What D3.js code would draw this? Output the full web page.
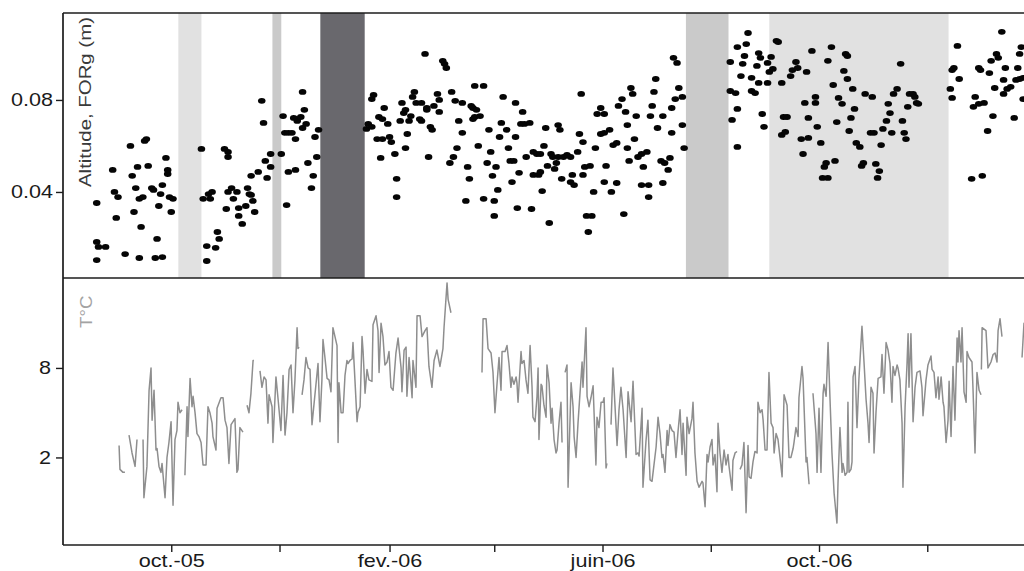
<!DOCTYPE html>
<html><head><meta charset="utf-8">
<script src="https://cdn.jsdelivr.net/npm/d3@7"></script>
<style>body{margin:0;background:#fff}svg{display:block}</style>
</head><body><svg id="c" width="1024" height="571"></svg>
<script>
// ---------- data ----------
const startDate = "2005-08-01";   // day 0 of the day offsets below
const endDate = "2007-02-01";

// Altitude FORg (m): day offset after startDate, value
const altDay = [19,19,20,24,19,28,29,31,30,35,38,39,40,41,42,43,45,43,44,46,47,48,50,51,52,53,54,55,56,56,58,59,59,60,62,61,
78,79,81,81,82,84,83,86,87,88,91,93,92,93,93,95,98,96,99,99,101,103,104,105,106,106,107,108,110,112,113,114,115,117,117,
123,124,125,127,129,126,127,131,130,132,131,132,134,135,135,136,137,138,140,141,142,143,144,
171,172,174,174,175,177,180,178,180,179,181,183,184,185,187,188,188,190,191,192,193,193,194,195,196,197,198,199,202,201,202,
204,205,205,206,207,208,209,211,212,212,214,215,216,218,219,220,221,225,222,223,225,227,228,229,230,231,233,231,232,235,232,
237,234,237,243,239,240,241,242,243,244,245,246,247,248,250,251,252,254,253,255,255,256,257,258,260,263,259,261,264,265,267,
269,265,268,269,270,271,272,273,274,275,276,279,277,278,279,280,281,282,284,286,286,288,287,290,291,292,293,293,294,297,295,
298,296,299,300,301,303,305,303,305,308,305,306,309,310,312,312,313,315,316,317,318,318,319,320,321,322,323,324,326,329,326,
330,327,330,331,332,333,334,335,337,339,338,338,341,342,343,343,344,346,345,347,349,349,350,
376,376,379,377,380,380,380,385,383,384,382,386,388,388,390,391,392,393,392,397,394,395,397,398,400,399,402,403,405,406,408,
405,407,410,411,414,413,416,420,417,418,424,419,420,422,424,425,427,429,430,428,431,431,433,434,435,436,437,439,440,441,442,
442,443,444,445,446,447,449,450,451,452,456,455,457,458,459,460,461,462,464,465,466,467,468,470,472,473,474,475,476,477,479,
480,481,482,500,501,502,501,504,505,512,518,514,513,516,519,516,517,521,522,523,524,525,526,527,529,530,530,531,532,534,536,
537,539,541,538,539,540,541];
const altValue = [.0352,.0183,.0161,.0161,.0104,.0496,.0400,.0378,.0287,.0130,.0600,.0470,.0313,.0417,.0509,.0370,.0378,.0113,.0248,.0622,.0630,.0513,.0417,.0409,.0113,.0196,.0339,.0391,.0430,.0117,.0548,.0478,.0496,.0378,.0370,.0313,
.0587,.0370,.0165,.0100,.0391,.0400,.0370,.0157,.0226,.0196,.0587,.0574,.0326,.0552,.0400,.0417,.0400,.0370,.0330,.0296,.0261,.0339,.0417,.0391,.0387,.0470,.0361,.0313,.0487,.0796,.0700,.0535,.0461,.0509,.0565,
.0565,.0730,.0657,.0657,.0657,.0343,.0487,.0496,.0722,.0717,.0630,.0709,.0726,.0678,.0835,.0757,.0696,.0526,.0417,.0470,.0639,.0552,.0670,
.0674,.0696,.0683,.0804,.0822,.0630,.0630,.0726,.0717,.0548,.0765,.0696,.0639,.0617,.0565,.0457,.0378,.0709,.0787,.0743,.0757,.0591,.0652,.0709,.0730,.0813,.0835,.0787,.0787,.0717,.0709,
.1000,.0765,.0757,.0552,.0683,.0670,.0774,.0826,.0800,.0748,.0970,.0957,.0939,.0526,.0835,.0552,.0796,.0787,.0591,.0709,.0657,.0361,.0509,.0457,.0774,.0765,.0757,.0717,.0726,.0730,.0861,
.0861,.0600,.0370,.0361,.0526,.0670,.0574,.0470,.0296,.0509,.0409,.0639,.0700,.0813,.0670,.0591,.0535,.0535,.0443,.0787,.0639,.0330,.0483,.0696,.0696,.0700,.0748,.0552,.0326,.0574,.0565,
.0565,.0474,.0474,.0487,.0404,.0600,.0678,.0513,.0265,.0565,.0552,.0552,.0500,.0526,.0691,.0670,.0457,.0552,.0561,.0552,.0443,.0430,.0474,.0574,.0652,.0826,.0617,.0474,.0509,.0513,.0296,
.0296,.0226,.0400,.0591,.0739,.0765,.0739,.0652,.0657,.0670,.0443,.0513,.0400,.0604,.0613,.0439,.0774,.0804,.0304,.0748,.0691,.0591,.0535,.0852,.0826,.0630,.0730,.0552,.0565,.0574,.0430,
.0430,.0509,.0378,.0730,.0774,.0835,.0891,.0678,.0535,.0526,.0439,.0730,.0496,.0548,.0657,.0765,.0983,.0961,.0804,.0852,.0691,.0813,.0591,
.0965,.0839,.0830,.0713,.0761,.0596,.1030,.1043,.0957,.0991,.0904,.1091,.0896,.0839,.0830,.0948,.1004,.0983,.0874,.0874,.0739,.0683,.0961,.0922,.0935,.0987,.1057,.1052,.0874,.0726,.0726,
.0648,.0661,.0904,.0930,.0939,.0965,.0630,.0635,.0565,.0787,.0787,.0922,.0722,.1013,.0813,.0683,.0613,.0509,.0526,.0461,.0461,.0970,.1030,.0865,.0535,.0704,.0809,.0783,.0926,.1000,.0991,
.0891,.0665,.0722,.0848,.0761,.0613,.0596,.0513,.0526,.0826,.0813,.0657,.0657,.0522,.0461,.0491,.0604,.0674,.0709,.0783,.0743,.0657,.0826,.0848,.0957,.0709,.0657,.0630,.0770,.0826,.0826,
.0813,.0787,.0783,.0848,.0930,.0939,.0809,.1035,.0891,.0457,.0470,.0813,.0770,.0783,.0787,.0939,.0930,.0665,.0917,.0970,.0730,.0852,.1000,.0983,.1096,.0826,.0887,.0939,.0848,.0857,.0722,
.0887,.0891,.0896,.0939,.1000,.1030,.0804];

// Temperature (°C): day offset after startDate, value (null = missing record)
const tempDay = [31.6,32.1,33.8,34.9,null,
37.2,38.9,40.6,41.7,null,
45.1,45.6,47.3,48.5,49.6,50.2,51.3,52.4,53.0,54.1,55.2,55.8,57.5,58.6,59.7,60.9,62.0,63.1,64.2,64.8,65.9,67.1,null,
68.7,69.9,70.4,71.6,72.7,73.3,74.4,75.5,76.6,77.8,78.9,80.6,81.7,82.8,84.0,84.5,86.2,86.8,89.0,90.2,91.3,92.4,93.5,94.7,95.8,96.9,98.0,98.6,99.7,101.4,null,
103.7,104.8,105.9,107.1,107.6,null,
111.0,112.1,113.3,114.4,115.5,116.1,117.8,118.3,120.0,121.2,122.8,124.0,125.1,126.2,127.4,128.5,129.6,130.7,131.9,132.4,133.0,null,
134.7,135.8,136.9,138.1,139.2,140.3,143.7,144.8,145.9,146.5,147.6,148.8,149.9,151.0,152.1,154.4,155.0,155.5,156.7,157.8,158.9,160.0,160.6,161.7,162.9,163.4,164.5,165.7,166.2,167.4,168.5,169.1,170.2,171.3,172.4,174.1,174.7,176.4,177.5,178.1,179.2,180.3,181.4,182.6,183.7,184.8,186.0,187.6,188.8,190.5,191.0,192.2,193.3,193.8,195.0,196.7,197.2,198.9,199.5,201.2,202.3,204.0,205.1,206.2,207.9,209.1,210.7,212.4,214.1,214.7,216.4,217.0,218.6,null,
236.1,236.7,238.4,239.5,241.2,242.3,243.4,244.6,245.7,246.8,247.4,249.1,250.2,251.3,252.4,253.0,254.1,255.3,255.8,256.4,258.1,258.6,259.8,260.9,262.0,263.2,264.3,264.8,266.0,267.1,267.7,268.2,269.4,269.9,271.0,272.2,272.7,273.9,275.0,275.6,276.7,277.8,278.4,279.5,280.6,281.2,null,
282.9,284.0,284.6,286.3,287.4,288.0,289.1,290.2,292.5,293.0,294.7,295.3,296.4,297.5,298.7,300.3,300.9,302.0,303.2,304.3,304.9,306.0,306.5,null,
308.8,309.9,310.5,312.2,313.3,314.4,315.6,317.3,318.4,320.1,321.2,322.9,324.0,324.6,326.3,326.8,328.5,329.6,330.8,331.9,332.5,334.2,335.3,336.4,337.5,338.1,339.2,340.4,340.9,342.0,343.2,344.3,345.4,346.6,347.7,348.8,349.4,351.1,351.6,352.8,354.4,355.0,356.1,357.3,358.4,360.1,360.6,361.8,362.9,363.5,364.6,365.7,366.3,367.4,368.5,369.1,370.2,371.3,372.5,373.6,374.7,375.3,377.0,377.5,378.7,379.8,null,
381.5,382.6,383.7,384.9,386.0,386.6,387.7,388.8,389.9,391.1,391.6,392.8,393.9,394.5,395.6,396.7,397.8,399.0,400.1,400.7,401.8,402.9,404.0,405.2,406.3,408.0,409.1,410.2,411.4,411.9,413.0,414.2,414.7,416.4,417.0,418.7,419.2,420.4,null,
422.6,424.3,424.9,426.0,427.1,428.3,428.8,430.0,431.1,432.2,433.3,434.5,436.1,436.7,437.8,439.0,439.5,440.7,441.8,442.3,442.9,444.0,444.6,445.2,446.3,447.4,448.5,450.2,451.4,452.5,453.6,454.2,455.3,456.4,457.0,458.1,459.3,460.9,461.5,462.6,463.8,464.9,466.0,467.1,467.7,468.8,470.0,470.5,471.6,472.8,473.3,474.5,475.6,476.2,476.7,477.8,479.0,480.1,481.2,482.9,484.0,484.6,486.3,487.4,489.1,489.7,490.8,491.9,493.1,493.6,494.8,495.9,496.4,497.6,498.7,499.3,500.4,501.5,502.6,503.8,504.3,504.9,506.0,506.6,507.7,508.9,509.4,510.5,512.2,512.8,513.9,515.0,516.2,517.3,null,
517.5,517.9,520.1,521.2,522.9,524.1,525.2,526.3,526.9,528.0,529.1,null,
540.4,541.5,542.7];
const tempValue = [2.8,1.2,1.0,1.0,null,
3.5,2.3,1.4,3.2,null,
3.2,-0.7,1.4,6.5,8.0,4.5,6.5,2.5,2.6,1.4,1.0,1.6,-0.7,2.0,3.0,4.4,-1.2,3.2,3.8,5.7,5.0,5.2,null,
0.8,5.4,3.4,7.3,5.4,6.1,5.0,3.6,3.4,3.0,1.5,1.5,5.4,5.0,4.3,3.4,2.5,5.3,6.0,6.0,4.5,4.0,1.6,4.2,4.4,4.6,1.0,1.2,4.0,3.7,null,
5.5,5.0,6.3,8.5,8.5,null,
7.8,6.7,7.4,7.2,4.3,6.2,5.4,3.0,7.4,5.9,3.8,7.5,3.5,5.0,7.9,8.2,5.0,7.2,10.7,9.3,9.4,null,
6.2,7.2,8.7,8.0,7.9,4.2,8.3,4.4,7.2,9.9,8.7,7.3,7.2,6.4,10.7,9.5,3.0,7.0,5.0,5.0,7.5,8.5,8.3,8.5,8.6,9.7,7.2,4.4,5.0,5.4,10.1,9.1,6.3,7.9,7.2,7.1,10.9,11.5,10.5,7.7,11.0,10.1,8.2,8.4,9.1,6.7,6.5,9.0,10.0,8.0,6.4,9.2,9.4,6.1,8.7,6.0,8.5,6.7,11.5,11.5,10.1,10.5,10.7,8.1,6.7,8.5,9.2,8.1,9.3,10.7,13.7,12.6,11.7,null,
7.7,11.3,11.3,9.3,9.0,7.7,5.0,7.0,8.7,6.5,9.1,9.1,9.5,8.3,6.7,7.4,6.9,7.4,7.0,5.7,9.1,8.3,8.5,7.2,6.3,9.5,6.7,4.7,4.4,6.1,8.0,3.2,6.9,6.8,5.5,4.7,8.2,7.0,4.3,5.3,3.2,2.3,2.5,4.3,5.7,3.0,null,
7.7,8.2,0.0,7.0,5.4,3.4,2.0,4.3,8.4,6.7,10.7,6.1,5.4,6.0,6.8,1.5,4.7,4.0,5.7,5.7,6.0,1.3,1.6,null,
4.2,8.0,6.7,2.8,5.2,6.7,5.2,2.0,6.4,4.4,7.1,2.2,2.3,2.1,5.3,0.0,3.1,4.5,0.5,0.4,1.0,2.7,4.7,3.6,2.0,2.2,1.0,3.8,2.8,4.2,3.8,3.7,2.0,3.8,5.2,2.2,4.3,0.8,4.7,3.6,4.6,5.7,2.3,0.4,0.0,0.4,0.3,-1.3,2.2,1.7,2.7,3.2,1.5,2.2,-0.3,4.3,2.3,1.0,2.5,1.5,2.2,1.4,-0.2,1.8,2.3,2.4,null,
1.2,1.5,3.0,-1.7,2.8,0.7,0.6,1.7,2.4,2.3,5.7,5.0,5.2,4.5,2.5,2.5,7.7,4.3,4.0,2.3,3.6,3.2,2.0,0.7,6.2,5.5,2.0,2.0,2.6,3.0,4.0,3.4,6.0,8.1,7.3,1.7,2.0,0.2,null,
6.3,3.6,1.0,5.3,1.0,6.3,6.9,6.1,9.7,5.9,2.3,-0.4,-2.4,0.3,4.0,1.0,1.6,0.8,1.0,5.7,1.0,1.2,1.7,7.4,8.1,4.0,7.3,10.8,8.3,5.9,4.3,3.0,6.7,6.3,2.3,5.0,7.3,7.4,8.9,6.3,9.7,9.2,8.3,5.7,8.1,7.5,8.2,8.0,7.2,4.3,0.0,5.4,8.3,10.3,6.7,10.3,4.4,6.7,7.7,7.8,6.7,4.8,7.2,8.2,8.8,7.9,7.7,6.0,7.4,5.9,7.4,5.7,5.4,3.0,4.5,7.1,3.4,8.1,4.5,10.0,8.4,10.5,8.4,10.7,6.4,5.7,9.1,8.7,8.4,6.5,2.3,7.7,6.5,6.2,null,
7.9,10.7,10.5,8.0,8.4,8.9,9.0,8.4,10.5,11.3,10.1,null,
8.7,11.0,10.6];

// Shaded periods (day offsets) and their category
const bandStartDay = [65, 118, 145, 351, 398];
const bandEndDay   = [78, 123, 170, 375, 499];
const bandCategory = ["A", "B", "C", "B", "A"];

const altTicks = [0.04, 0.08];
const tempTicks = [2, 8];
const xTickDates = ["2005-10-01","2005-12-01","2006-02-01","2006-04-01","2006-06-01","2006-08-01","2006-10-01","2006-12-01"];
const xTickLabels = ["oct.-05","","fev.-06","","juin-06","","oct.-06",""];

// ---------- layout ----------
const L = 63, R = 1037.3;
const topT = 13, topB = 278, botT = 278, botB = 545;
const FONT = "'Liberation Sans', Arial, Helvetica, sans-serif";

const svg = d3.select("#c");
const parse = d3.utcParse("%Y-%m-%d");
const t0 = parse(startDate);
const dayToDate = d => new Date(t0.getTime() + d * 864e5);

const x = d3.scaleUtc().domain([t0, parse(endDate)]).range([L, R]);
const yAlt = d3.scaleLinear().domain([0.0026, 0.1178]).range([topB, topT]);
const yTemp = d3.scaleLinear().domain([-3.87, 14.03]).range([botB, botT]);
const bandColor = d3.scaleOrdinal().domain(["A","B","C"]).range(["#e1e1e1","#cacaca","#69686d"]);

svg.append("rect").attr("width",1024).attr("height",571).attr("fill","#fff");
svg.append("defs").append("clipPath").attr("id","clipTop")
  .append("rect").attr("x",L).attr("y",topT).attr("width",R-L).attr("height",topB-topT);
svg.select("defs").append("clipPath").attr("id","clipBot")
  .append("rect").attr("x",L).attr("y",botT).attr("width",R-L).attr("height",botB-botT);

// bands
const bands = bandStartDay.map((s,i)=>({s, e: bandEndDay[i], c: bandCategory[i]}));
svg.append("g").selectAll("rect").data(bands).join("rect")
  .attr("x", d => x(dayToDate(d.s)))
  .attr("width", d => x(dayToDate(d.e)) - x(dayToDate(d.s)))
  .attr("y", topT).attr("height", topB-topT)
  .attr("fill", d => bandColor(d.c));

// altitude dots
const alt = altDay.map((d,i)=>({d, v: altValue[i]}));
svg.append("g").attr("clip-path","url(#clipTop)")
  .selectAll("ellipse").data(alt).join("ellipse")
  .attr("cx", d => x(dayToDate(d.d)))
  .attr("cy", d => yAlt(d.v))
  .attr("rx", 3.8).attr("ry", 2.9)
  .attr("fill", "#050505");

// temperature line
const temp = tempDay.map((d,i)=>({d, v: tempValue[i]}));
const line = d3.line().defined(d => d.v !== null && d.d !== null)
  .x(d => x(dayToDate(d.d))).y(d => yTemp(d.v));
svg.append("path").attr("clip-path","url(#clipBot)")
  .datum(temp).attr("d", line)
  .attr("fill","none").attr("stroke","#8e8e8e").attr("stroke-width",1.5)
  .attr("stroke-linejoin","round");

// frame
const frame = svg.append("g").attr("stroke","#1c1c1c").attr("stroke-width",1.7).attr("fill","none");
frame.append("line").attr("x1",L).attr("x2",R+5).attr("y1",topT).attr("y2",topT);
frame.append("line").attr("x1",L).attr("x2",R+5).attr("y1",topB).attr("y2",topB);
frame.append("line").attr("x1",L).attr("x2",L).attr("y1",topT).attr("y2",botB);
frame.append("line").attr("x1",L).attr("x2",R+5).attr("y1",botB).attr("y2",botB);

// axes
function styleAxis(g){
  g.select(".domain").remove();
  g.selectAll("line").attr("stroke","#1c1c1c").attr("stroke-width",1.4);
  g.selectAll("text").attr("fill","#1a1a1a").style("font-family",FONT).style("font-size","18px");
}
const axAlt = svg.append("g").attr("transform",`translate(${L},0)`)
  .call(d3.axisLeft(yAlt).tickValues(altTicks).tickSize(7).tickFormat(d3.format(".2f")));
styleAxis(axAlt);
axAlt.selectAll("text").attr("x",0).attr("transform","translate(-10,0) scale(1.2,1)");

const axTemp = svg.append("g").attr("transform",`translate(${L},0)`)
  .call(d3.axisLeft(yTemp).tickValues(tempTicks).tickSize(7).tickFormat(d3.format("d")));
styleAxis(axTemp);
axTemp.selectAll("text").attr("x",0).attr("transform","translate(-12,0) scale(1.2,1)");

const axX = svg.append("g").attr("transform",`translate(0,${botB})`)
  .call(d3.axisBottom(x).tickValues(xTickDates.map(parse)).tickSize(7)
    .tickFormat((d,i) => xTickLabels[i]));
styleAxis(axX);
axX.selectAll("text").attr("y",9).attr("transform","scale(1.2,1)");

// panel titles
svg.append("text").attr("transform","translate(91,187) rotate(-90) scale(1.2,1)")
  .text("Altitude, FORg (m)").attr("fill","#3a3a3a")
  .style("font-family",FONT).style("font-size","17px");
svg.append("text").attr("transform","translate(92,328) rotate(-90) scale(1.1,1)")
  .text("T°C").attr("fill","#a3a3a3")
  .style("font-family",FONT).style("font-size","17px");
</script></body></html>
